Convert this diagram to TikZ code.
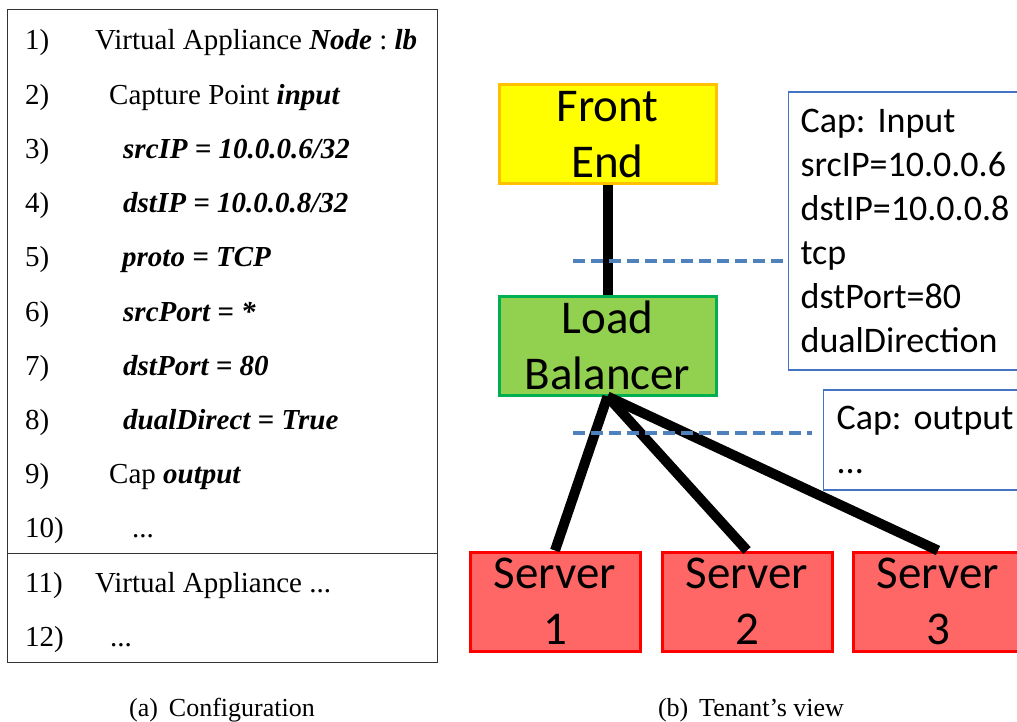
\documentclass[tikz,border=0pt]{standalone}
\usepackage{fontspec}
\setmainfont{Liberation Serif}
\newfontfamily\calibfont{Carlito}
\definecolor{feyellow}{RGB}{255,255,0}
\definecolor{feorange}{RGB}{255,192,0}
\definecolor{lbgreen}{RGB}{146,208,80}
\definecolor{lbborder}{RGB}{0,176,80}
\definecolor{srvfill}{RGB}{255,102,102}
\definecolor{srvborder}{RGB}{255,0,0}
\definecolor{capblue}{RGB}{68,114,196}
\definecolor{tapblue}{RGB}{79,129,189}
\usetikzlibrary{positioning,calc}
\newcommand{\cfgkw}[1]{\textbf{\textit{#1}}}
\frenchspacing

\tikzset{
  tier/.style={draw, line width=3pt, minimum width=217pt, minimum height=99pt,
    inner sep=0pt, align=center, font=\calibfont\fontsize{47}{56}\selectfont},
  frontend/.style={tier, fill=feyellow, draw=feorange},
  balancer/.style={tier, fill=lbgreen, draw=lbborder},
  server/.style={tier, fill=srvfill, draw=srvborder, minimum width=170pt},
  capbox/.style={draw=capblue, line width=1.2pt, anchor=west, align=left,
    font=\calibfont\fontsize{36}{44}\selectfont},
  link/.style={line width=10pt},
  tapline/.style={draw=tapblue, line width=3.5pt, dash pattern=on 12pt off 6pt},
  cfgline/.style={anchor=base west, inner sep=0pt, font=\fontsize{29}{34}\selectfont},
  subcap/.style={anchor=base, inner sep=0pt, font=\fontsize{26}{30}\selectfont}
}

\begin{document}
\begin{tikzpicture}[x=1pt,y=-1pt]
                \useasboundingbox (0,0) rectangle (1017,722);
                \clip (0,0) rectangle (1017,722);

                % Configuration listing
                \draw[line width=1pt,black!80] (7.5,10) rectangle (437,662);
                \draw[line width=1pt,black!80] (7.5,553) -- (437,553);
                \foreach \n/\xx/\txt in {
                    1/95/{Virtual Appliance \cfgkw{Node} : \cfgkw{lb}},
                    2/109/{Capture Point \cfgkw{input}},
                    3/123/{\cfgkw{srcIP = 10.0.0.6/32}},
                    4/123/{\cfgkw{dstIP = 10.0.0.8/32}},
                    5/122/{\cfgkw{proto = TCP}},
                    6/123/{\cfgkw{srcPort = *}},
                    7/123/{\cfgkw{dstPort = 80}},
                    8/123/{\cfgkw{dualDirect = True}},
                    9/109/{Cap \cfgkw{output}},
                    10/132/{...},
                    11/95/{Virtual Appliance ...},
                    12/110/{...}}{
                    \node[cfgline] (num\n) at (25,{50+(\n-1)*54.2}) {\n)};
                    \node[cfgline] (line\n) at (\xx,{50+(\n-1)*54.2}) {\txt};
                }
                \node[subcap] (capa) at (222,716) {(a)\hspace{0.42em}Configuration};

                % Tenant's view
                \node[frontend] (fe) at (607.5,134.5) {Front\\End};
                \node[balancer] (lb) at (607.5,345.5) {Load\\Balancer};
                \node[server] (srv1) at (555,601.5) {Server\\1};
                \node[server] (srv2) at (747,601.5) {Server\\2};
                \node[server] (srv3) at (938,601.5) {Server\\3};

                \draw[link] (fe) -- (lb);
                \draw[link] (lb.south) -- (srv1.north);
                \draw[link] (lb.south) -- (srv2.north);
                \draw[link] (lb.south) -- (srv3.north);

                % Capture points
                \node[capbox, text width=216pt, inner xsep=12pt, minimum height=278pt]
                    (capin) at (788,231) {Cap: Input\\srcIP=10.0.0.6\\dstIP=10.0.0.8\\tcp\\dstPort=80\\dualDirection};
                \node[capbox, text width=200pt, inner xsep=13pt, minimum height=100pt]
                    (capout) at (823,440) {Cap: output\\...};

                \coordinate (tapin) at (573,261);
                \coordinate (tapout) at (573,433);
                \draw[tapline, shorten >=3pt] (tapin) -- (tapin -| capin.west);
                \draw[tapline, shorten >=11pt] (tapout) -- (tapout -| capout.west);

                \node[subcap] (capb) at (751,716) {(b)\hspace{0.42em}Tenant's view};
            \end{tikzpicture}
\end{document}
